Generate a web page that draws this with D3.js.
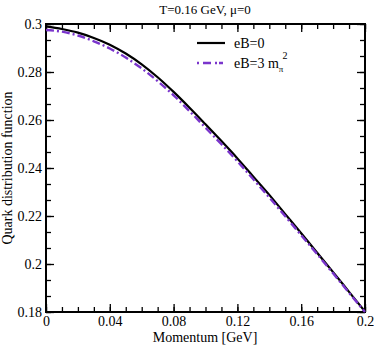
<!DOCTYPE html>
<html>
<head>
<meta charset="utf-8">
<script src="https://cdn.jsdelivr.net/npm/d3@7"></script>
<style>
  body { margin: 0; background: #fff; }
</style>
</head>
<body>
<svg id="chart" width="374" height="345"></svg>
<script>
// data
const momentum = [0, 0.01, 0.02, 0.03, 0.04, 0.05, 0.06, 0.07, 0.08, 0.09, 0.10,
  0.11, 0.12, 0.13, 0.14, 0.15, 0.16, 0.17, 0.18, 0.19, 0.20];
const fEb0 = [0.2990, 0.2979, 0.2964, 0.2942, 0.2914, 0.2877, 0.2832, 0.2778, 0.2717, 0.2651, 0.2582,
  0.2512, 0.2440, 0.2364, 0.2288, 0.2208, 0.2128, 0.2047, 0.1966, 0.1884, 0.1802];
const fEb3 = [0.2975, 0.2968, 0.2952, 0.2928, 0.2898, 0.2860, 0.2815, 0.2762, 0.2703, 0.2637, 0.2568,
  0.2499, 0.2428, 0.2353, 0.2277, 0.2199, 0.2120, 0.2041, 0.1961, 0.1880, 0.1800];
const xTicks = [0, 0.04, 0.08, 0.12, 0.16, 0.2];
const yTicks = [0.18, 0.2, 0.22, 0.24, 0.26, 0.28, 0.3];

const FONT = '"Liberation Serif", "Times New Roman", "DejaVu Serif", serif';

const svg = d3.select('#chart');
const margin = { top: 24, right: 9, bottom: 33, left: 46 };
const width = 374 - margin.left - margin.right,
  height = 345 - margin.top - margin.bottom;

const g = svg.append('g').attr('transform', `translate(${margin.left},${margin.top})`);

const x = d3.scaleLinear().domain([0, 0.2]).range([0, width]);
const y = d3.scaleLinear().domain([0.18, 0.3]).range([height, 0]);

const xMinor = d3.range(0, 21).map(i => i * 0.01);
const yMinor = d3.range(0, 19).map(i => 0.18 + i * 0.02 / 3);

// inward ticks on all four sides
function tickAxis(axisFn, scale, major, minor, transform, fmt) {
  const a = g.append('g').attr('transform', transform);
  a.call(axisFn(scale).tickValues(minor).tickSize(-5).tickFormat(''));
  a.append('g').call(axisFn(scale).tickValues(major).tickSize(-8).tickPadding(4).tickFormat(fmt));
  a.selectAll('.domain').remove();
  a.selectAll('line').attr('stroke', '#000').attr('stroke-width', 1.3);
  a.selectAll('text').attr('fill', '#000').style('font-size', '14px').style('font-family', FONT);
  return a;
}
const fmt = d => (d === 0 ? '0' : d3.format('.2~f')(d));
tickAxis(d3.axisBottom, x, xTicks, xMinor, `translate(0,${height})`, fmt);
tickAxis(d3.axisTop, x, xTicks, xMinor, 'translate(0,0)', '');
tickAxis(d3.axisLeft, y, yTicks, yMinor, 'translate(0,0)', fmt);
tickAxis(d3.axisRight, y, yTicks, yMinor, `translate(${width},0)`, '');

// frame
g.append('rect')
  .attr('width', width).attr('height', height)
  .attr('fill', 'none').attr('stroke', '#000').attr('stroke-width', 2);

const line = d3.line().curve(d3.curveMonotoneX);

g.append('path')
  .attr('d', line(momentum.map((m, i) => [x(m), y(fEb0[i])])))
  .attr('fill', 'none').attr('stroke', '#000').attr('stroke-width', 2.2);

const purple = '#7a35cc';
g.append('path')
  .attr('d', line(momentum.map((m, i) => [x(m), y(fEb3[i])])))
  .attr('fill', 'none').attr('stroke', purple).attr('stroke-width', 2.4)
  .attr('stroke-dasharray', '8,3,2,3');

// legend
const lg = svg.append('g');
lg.append('line').attr('x1', 197).attr('x2', 225).attr('y1', 43).attr('y2', 43)
  .attr('stroke', '#000').attr('stroke-width', 2.2);
lg.append('text').attr('x', 234).attr('y', 48).style('font-size', '14px')
  .style('font-family', FONT).text('eB=0');
lg.append('line').attr('x1', 197).attr('x2', 225).attr('y1', 63).attr('y2', 63)
  .attr('stroke', purple).attr('stroke-width', 2.4).attr('stroke-dasharray', '2,4,8,4,2');
const t2 = lg.append('text').attr('x', 234).attr('y', 68).style('font-size', '14px')
  .style('font-family', FONT);
t2.append('tspan').text('eB=3 m');
t2.append('tspan').attr('dy', 4).style('font-size', '9px').text('π');
t2.append('tspan').attr('dy', -13).attr('dx', -1).style('font-size', '10px').text('2');

// title and labels
svg.append('text').attr('x', 205).attr('y', 14).attr('text-anchor', 'middle')
  .style('font-size', '13px').style('font-family', FONT).text('T=0.16 GeV, μ=0');
svg.append('text').attr('x', 205).attr('y', 342).attr('text-anchor', 'middle')
  .style('font-size', '14px').style('font-family', FONT).text('Momentum [GeV]');
svg.append('text').attr('transform', 'translate(12,168) rotate(-90)').attr('text-anchor', 'middle')
  .style('font-size', '14px').style('font-family', FONT).text('Quark distribution function');
</script>
</body>
</html>
